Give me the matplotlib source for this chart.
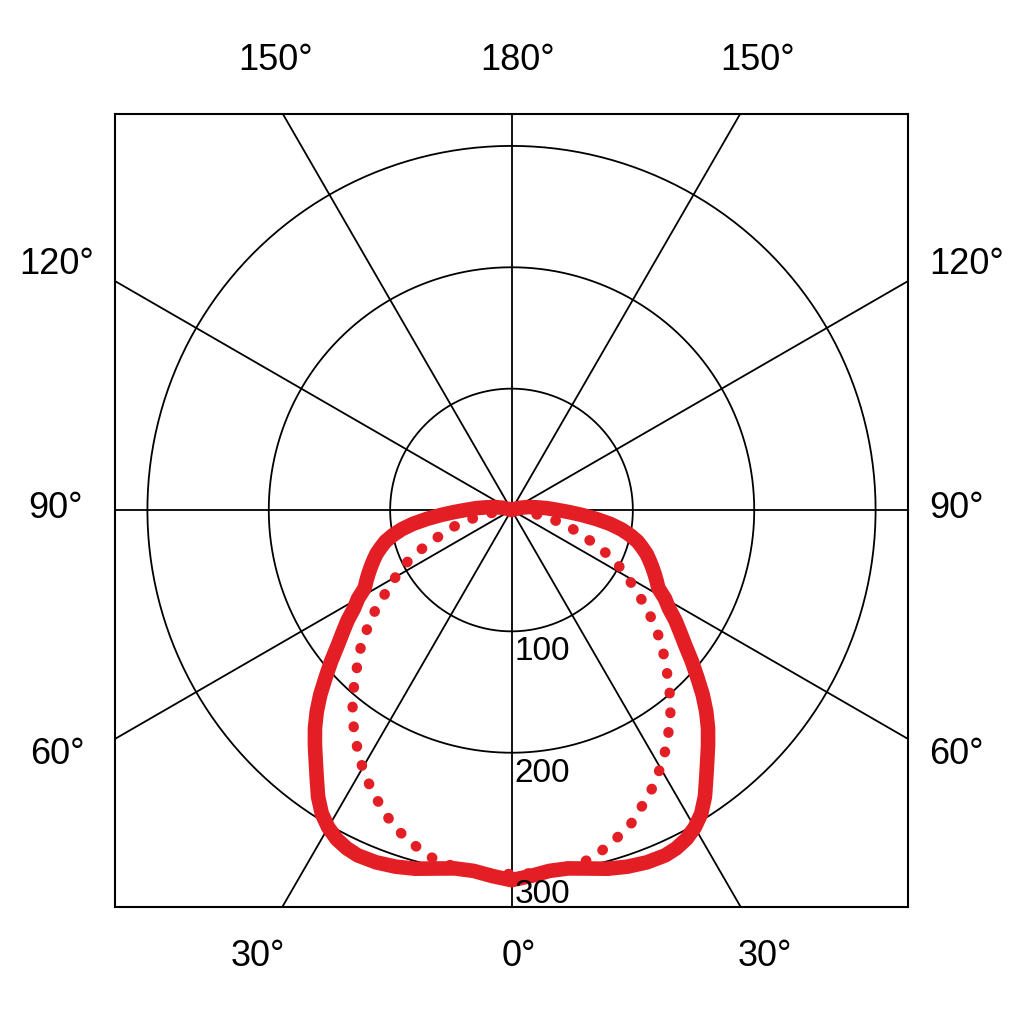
import numpy as np
import matplotlib
matplotlib.use("Agg")
import matplotlib.pyplot as plt

plt.rcParams["font.family"] = ["Liberation Sans", "DejaVu Sans"]

# gamma angle (deg, 0 = nadir) and intensity for the two curves
solid_gamma = [0, 3, 6, 9, 12, 15, 18, 21, 24, 26, 28, 30, 32, 34, 36, 38,
               40, 42, 44, 46, 48, 50, 52, 54, 56, 58, 60, 62, 64, 66, 68,
               70, 72, 74, 76, 78, 80, 82, 84, 86, 88, 90, 93, 96, 100, 105,
               110, 120, 180]
solid_value = [305, 302, 299, 299, 302, 306, 309, 311, 311.5, 310, 307, 302,
               295, 285, 273, 262, 252, 242, 231, 219, 206, 194, 182, 172,
               163, 153, 146, 137, 133, 129, 125, 121, 117, 112, 107, 100,
               92, 82, 70, 58, 47, 38, 29, 21, 14, 7, 2, 0, 0]

dotted_gamma = [0, 5, 8, 11.7, 14.6, 17.7, 20.5, 23.2, 26, 28.7, 31.5, 34.2,
                37.1, 39.7, 42.4, 45.2, 48.2, 51.1, 54.1, 56.8, 60.2, 63.8,
                66.8, 69.8, 74, 77.5, 81, 85, 90]
dotted_value = [300, 300, 298, 296, 291, 284, 278, 268.5, 260, 250, 240,
                228.5, 217, 205, 192, 178.5, 166, 151.5, 137.5, 123.5, 109.5,
                94.8, 79.5, 64.8, 49, 34, 18, 8, 0]

ring_values = [100, 200, 300]
spoke_angles = np.arange(0, 360, 30)

# angle labels: text, x, y (pixels in the 1024 canvas), alignment
angle_labels = [
    ("180°", 518, 61, "center"), ("150°", 276, 61, "center"),
    ("150°", 758, 61, "center"),
    ("120°", 57, 264, "center"), ("90°", 56, 509, "center"),
    ("60°", 57, 754, "center"),
    ("120°", 929, 264, "left"), ("90°", 929, 509, "left"),
    ("60°", 929, 754, "left"),
    ("30°", 258, 957, "center"), ("0°", 519, 957, "center"),
    ("30°", 765, 957, "center"),
]

RED = "#E31E24"
LIM = 326.7


def to_xy(gamma, value):
    """Polar (gamma from nadir) to cartesian, mirrored on both sides."""
    g = np.radians(np.asarray(gamma, dtype=float))
    r = np.asarray(value, dtype=float)
    g_full = np.concatenate([-g[::-1], g[1:]])
    r_full = np.concatenate([r[::-1], r[1:]])
    return r_full * np.sin(g_full), -r_full * np.cos(g_full)


fig = plt.figure(figsize=(10.24, 10.24), dpi=100)
ax = fig.add_axes([115 / 1024, 117 / 1024, 793 / 1024, 794 / 1024])
ax.set_xlim(-LIM, LIM)
ax.set_ylim(-LIM, LIM)
ax.set_aspect("equal")
ax.set_xticks([])
ax.set_yticks([])
for sp in ax.spines.values():
    sp.set_linewidth(1.5)

t = np.linspace(0, 2 * np.pi, 400)
for rv in ring_values:
    ax.plot(rv * np.cos(t), rv * np.sin(t), color="black", lw=1.3, zorder=1)
    ax.text(2.5, -rv - 4, str(rv), fontsize=24, ha="left", va="top", zorder=4)

for a in spoke_angles:
    ar = np.radians(a)
    ax.plot([0, 600 * np.sin(ar)], [0, -600 * np.cos(ar)], color="black",
            lw=1.3, zorder=1)

xs, ys = to_xy(solid_gamma, solid_value)
ax.plot(xs, ys, color=RED, lw=10.5, solid_joinstyle="round",
        solid_capstyle="round", zorder=3)

xd, yd = to_xy(dotted_gamma, dotted_value)
ax.plot(xd, yd, color=RED, lw=7.5, linestyle=(0, (0.05, 1.85)),
        dash_capstyle="round", zorder=2)

for txt, px, py, ha in angle_labels:
    fig.text(px / 1024, 1 - py / 1024, txt, fontsize=26, ha=ha, va="center")

fig.savefig("out.png", dpi=100, facecolor="white")
